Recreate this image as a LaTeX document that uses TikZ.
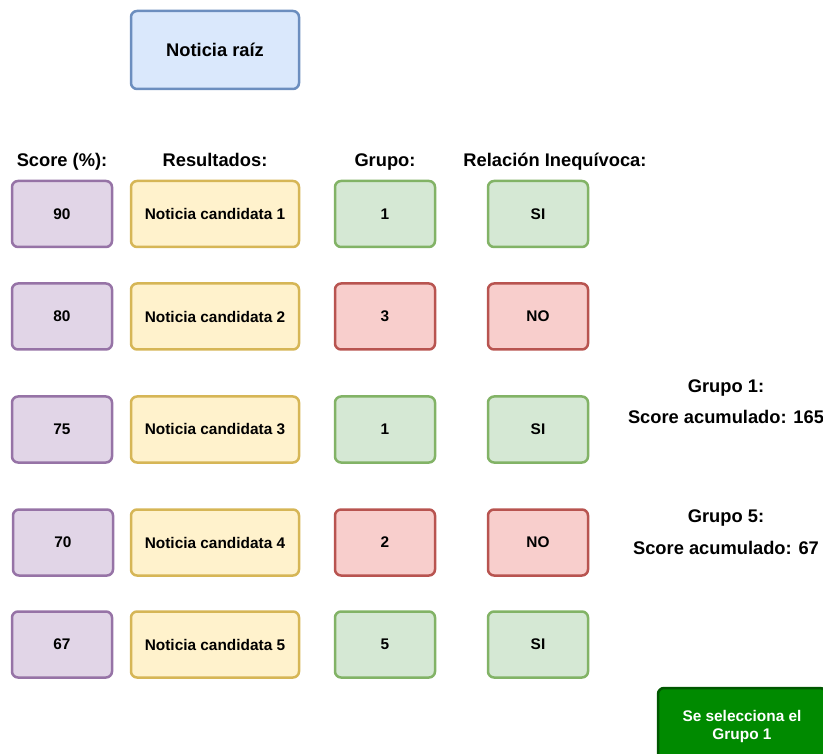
\documentclass[tikz,border=0pt]{standalone}
\usepackage{fontspec}
\setmainfont{Liberation Sans}
\definecolor{purpleFill}{HTML}{E1D5E7}\definecolor{purpleLine}{HTML}{9673A6}
\definecolor{yellowFill}{HTML}{FFF2CC}\definecolor{yellowLine}{HTML}{D6B656}
\definecolor{greenFill}{HTML}{D5E8D4}\definecolor{greenLine}{HTML}{82B366}
\definecolor{redFill}{HTML}{F8CECC}\definecolor{redLine}{HTML}{B85450}
\definecolor{blueFill}{HTML}{DAE8FC}\definecolor{blueLine}{HTML}{6C8EBF}
\definecolor{darkGreenFill}{HTML}{008A00}\definecolor{darkGreenLine}{HTML}{005700}
\tikzset{
  box/.style={rounded corners=6pt, line width=2.5pt, align=center,
    font=\fontsize{15.4}{18}\selectfont\bfseries, inner sep=0pt},
  narrowbox/.style={box, minimum width=100pt, minimum height=66pt},
  widebox/.style={box, minimum width=168pt, minimum height=66pt},
  scorebox/.style={narrowbox, draw=purpleLine, fill=purpleFill},
  resultbox/.style={widebox, draw=yellowLine, fill=yellowFill},
  yesbox/.style={narrowbox, draw=greenLine, fill=greenFill},
  nobox/.style={narrowbox, draw=redLine, fill=redFill},
  heading/.style={font=\fontsize{18.3}{22}\selectfont\bfseries, inner sep=0pt, anchor=base},
}
\begin{document}
\begin{tikzpicture}[x=1pt,y=-1pt]
\useasboundingbox (0,0) rectangle (823,754);

% root news item
\node[box, draw=blueLine, fill=blueFill, minimum width=168pt, minimum height=78pt,
  font=\fontsize{18.3}{22}\selectfont\bfseries] (root) at (215,50) {Noticia raíz};

% column headings (shared baseline)
\node[heading] (hScore) at (62,167) {Score (\%):};
\node[heading] (hRes) at (215,167) {Resultados:};
\node[heading] (hGrp) at (385,167) {Grupo:};
\node[heading] (hRel) at (555,167) {Relación Inequívoca:};

% rows: score, candidate, group, unequivocal relation
\node[scorebox] (s1) at (62,214) {90};
\node[resultbox] (r1) at (215,214) {Noticia candidata 1};
\node[yesbox] (g1) at (385,214) {1};
\node[yesbox] (u1) at (538,214) {SI};

\node[scorebox] (s2) at (62,316.5) {80};
\node[resultbox] (r2) at (215,316.5) {Noticia candidata 2};
\node[nobox] (g2) at (385,316.5) {3};
\node[nobox] (u2) at (538,316.5) {NO};

\node[scorebox] (s3) at (62,429.5) {75};
\node[resultbox] (r3) at (215,429.5) {Noticia candidata 3};
\node[yesbox] (g3) at (385,429.5) {1};
\node[yesbox] (u3) at (538,429.5) {SI};

\node[scorebox] (s4) at (63,542.5) {70};
\node[resultbox] (r4) at (215,542.5) {Noticia candidata 4};
\node[nobox] (g4) at (385,542.5) {2};
\node[nobox] (u4) at (538,542.5) {NO};

\node[scorebox] (s5) at (62,644.5) {67};
\node[resultbox] (r5) at (215,644.5) {Noticia candidata 5};
\node[yesbox] (g5) at (385,644.5) {5};
\node[yesbox] (u5) at (538,644.5) {SI};

% accumulated scores per group
\node[heading] (t1a) at (726,392) {Grupo 1:};
\node[heading] (t1b) at (726,424) {Score acumulado: 165};
\node[heading] (t5a) at (726,522) {Grupo 5:};
\node[heading] (t5b) at (726,554) {Score acumulado: 67};

% final decision
\node[box, draw=darkGreenLine, fill=darkGreenFill, text=white,
  minimum width=168pt, minimum height=78pt] (sel) at (742,727)
  {Se selecciona el\\Grupo 1};
\end{tikzpicture}
\end{document}
